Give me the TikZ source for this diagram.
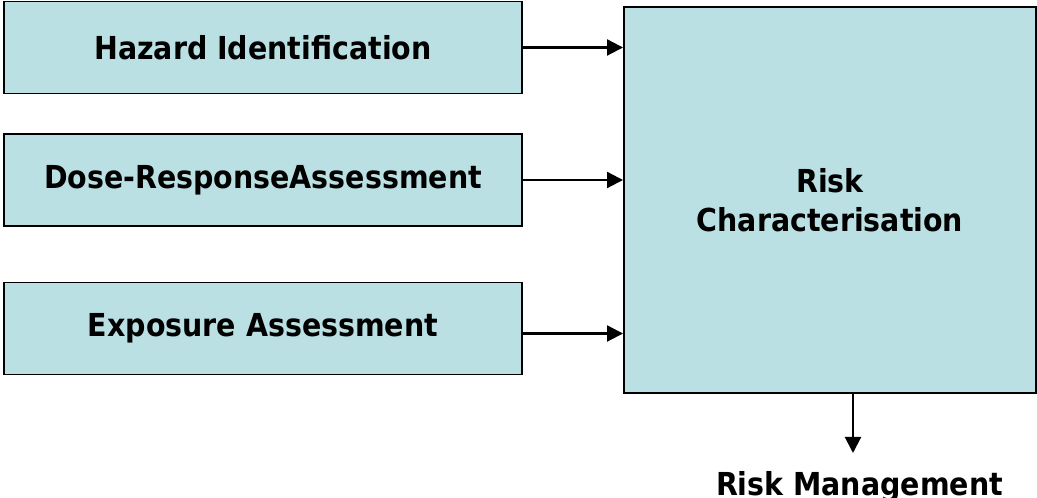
\documentclass[tikz,border=0pt]{standalone}
\usepackage{fontspec}
\setmainfont{DejaVu Sans Condensed}[BoldFont={DejaVu Sans Condensed Bold}]
\usetikzlibrary{arrows.meta}
\definecolor{stepfill}{RGB}{186,224,227}
\begin{document}
\begin{tikzpicture}[
    >={Triangle[length=3.2mm,width=3.2mm]},
    font=\fontsize{18}{22}\selectfont\bfseries,
    stage/.style={
        rectangle,
        draw=black,
        line width=1.1pt,
        fill=stepfill,
        minimum width=10.36cm,
        minimum height=1.84cm,
        inner sep=0pt
    },
    result/.style={
        rectangle,
        draw=black,
        line width=1.1pt,
        fill=stepfill,
        minimum width=8.24cm,
        minimum height=7.72cm,
        align=center,
        inner sep=0pt
    },
    link/.style={->, line width=1.2pt}
]
\useasboundingbox (0,0) rectangle (20.74,9.96);

% Assessment steps
\node[stage] (hi) at (5.26,9.01) {Hazard Identification};
\node[stage] (dr) at (5.26,6.36) {Dose-ResponseAssessment};
\node[stage] (ea) at (5.26,3.39) {Exposure Assessment};

% Characterisation
\node[result] (rc) at (16.6,5.96) {Risk\\Characterisation};

% Management
\node[anchor=base] (rm) at (17.19,0.04) {Risk Management};
\coordinate (rmtip) at (17.06,0.9);

% Connections
\draw[link] (hi) -- (hi -| rc.west);
\draw[link] (dr) -- (dr -| rc.west);
\draw[link] ([yshift=-1mm]ea.east) -- ([yshift=-1mm]ea.east -| rc.west);

\draw[link] (rc.south -| rmtip) -- (rmtip);

\end{tikzpicture}
\end{document}
